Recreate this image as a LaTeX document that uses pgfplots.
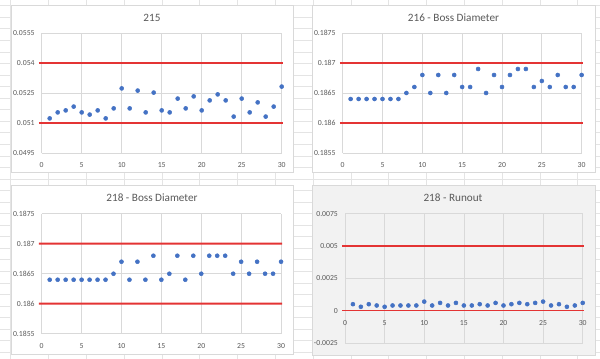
\documentclass[border=0pt]{standalone}
\usepackage{pgfplots}
\pgfplotsset{compat=1.18}
\usepackage{fontspec}
\setmainfont{Carlito}
\definecolor{txt}{HTML}{595959}
\definecolor{grd}{HTML}{D9D9D9}
\definecolor{sheet}{HTML}{E4E4E4}
\definecolor{ptblue}{HTML}{4472C4}
\definecolor{lim}{RGB}{228,52,52}
\definecolor{selbg}{HTML}{F2F2F2}
\pgfplotsset{
  excel/.style={
    scale only axis, anchor=south west,
    xmin=0, xmax=30, xtick={0,5,...,30},
    grid=major, major grid style={grd, line width=0.55pt},
    axis line style={draw=none}, major tick length=0pt,
    tick label style={font=\fontsize{5.8}{6}\selectfont, text=txt},
    xticklabel style={yshift=-3.5pt},
    yticklabel style={xshift=-1.8pt},
    scaled y ticks=false,
    /pgf/number format/.cd, fixed, precision=4, assume math mode=true,
    /pgfplots/.cd,
    clip=false,
  },
  pts/.style={only marks, mark=*, mark size=1.5pt, mark options={draw=ptblue, fill=ptblue}},
  limline/.style={no marks, color=lim, draw=lim, line width=1.1pt},
}
\begin{document}
\begin{tikzpicture}
\useasboundingbox (0pt,0pt) rectangle (450pt,-269.25pt);
\begin{scope}[x=0.75pt, y=-0.75pt]
  \fill[white] (0,0) rectangle (600,359);
  \foreach \i in {0,...,15} {\draw[sheet, line width=0.5pt] ({10.7+37.8*\i},0) -- ({10.7+37.8*\i},359);}
  \foreach \j in {0,...,31} {\draw[sheet, line width=0.5pt] (0,{5.7+11.55*\j}) -- (600,{5.7+11.55*\j});}
  \filldraw[fill=white, draw=grd, line width=0.5pt] (11,5) rectangle (293,172);
  \filldraw[fill=white, draw=grd, line width=0.5pt] (312,5) rectangle (595,172);
  \filldraw[fill=white, draw=grd, line width=0.5pt] (11,185) rectangle (293,354);
  \filldraw[fill=selbg, draw=grd, line width=0.5pt] (312,185) rectangle (595,355);
  \node[font=\fontsize{8.4}{9}\selectfont, text=txt] at (152,17.5) {215};
  \node[font=\fontsize{8.4}{9}\selectfont, text=txt] at (453.5,17.5) {216 - Boss Diameter};
  \node[font=\fontsize{8.4}{9}\selectfont, text=txt] at (152,198) {218 - Boss Diameter};
  \node[font=\fontsize{8.4}{9}\selectfont, text=txt] at (453,198) {218 - Runout};
\end{scope}

% 215
\begin{axis}[excel, at={(31.28pt,-114.75pt)}, width=180pt, height=90pt,
  ymin=0.0495, ymax=0.0555, ytick={0.0495,0.051,0.0525,0.054,0.0555}]
\addplot[limline] coordinates {(-0.35,0.051) (30.15,0.051)};
\addplot[limline] coordinates {(-0.35,0.054) (30.15,0.054)};
\addplot[pts] coordinates {
(1,0.05123) (2,0.05153) (3,0.05163) (4,0.05182) (5,0.05153) (6,0.05142)
(7,0.05163) (8,0.05123) (9,0.05173) (10,0.05273) (11,0.05173) (12,0.05262)
(13,0.05153) (14,0.05252) (15,0.05163) (16,0.05153) (17,0.05222) (18,0.05173)
(19,0.05233) (20,0.05163) (21,0.05213) (22,0.05243) (23,0.05213) (24,0.05132)
(25,0.05222) (26,0.05153) (27,0.05203) (28,0.05132) (29,0.05182) (30,0.05282)};
\end{axis}

% 216 - Boss Diameter
\begin{axis}[excel, at={(257.0pt,-114.75pt)}, width=179.25pt, height=90pt,
  ymin=0.1855, ymax=0.1875, ytick={0.1855,0.186,0.1865,0.187,0.1875}]
\addplot[limline] coordinates {(-0.35,0.186) (30.15,0.186)};
\addplot[limline] coordinates {(-0.35,0.187) (30.15,0.187)};
\addplot[pts] coordinates {
(1,0.1864) (2,0.1864) (3,0.1864) (4,0.1864) (5,0.1864) (6,0.1864)
(7,0.1864) (8,0.1865) (9,0.1866) (10,0.1868) (11,0.1865) (12,0.1868)
(13,0.1865) (14,0.1868) (15,0.1866) (16,0.1866) (17,0.1869) (18,0.1865)
(19,0.1868) (20,0.1866) (21,0.1868) (22,0.1869) (23,0.1869) (24,0.1866)
(25,0.1867) (26,0.1866) (27,0.1868) (28,0.1866) (29,0.1866) (30,0.1868)};
\end{axis}

% 218 - Runout
\begin{axis}[excel, at={(258.75pt,-257.25pt)}, width=178.3pt, height=97pt,
  ymin=-0.0025, ymax=0.0075, ytick={-0.0025,0,0.0025,0.005,0.0075},
  xticklabel style={yshift=24.2pt}]
\addplot[limline] coordinates {(-0.35,0) (30.15,0)};
\addplot[limline] coordinates {(-0.35,0.005) (30.15,0.005)};
\addplot[pts] coordinates {
(1,0.0005) (2,0.0003) (3,0.0005) (4,0.0004) (5,0.0003) (6,0.0004)
(7,0.0004) (8,0.0004) (9,0.0004) (10,0.0007) (11,0.0004) (12,0.0006)
(13,0.0004) (14,0.0006) (15,0.0004) (16,0.0004) (17,0.0005) (18,0.0004)
(19,0.0006) (20,0.0004) (21,0.0005) (22,0.0006) (23,0.0005) (24,0.0006)
(25,0.0007) (26,0.0004) (27,0.0005) (28,0.0003) (29,0.0004) (30,0.0006)};
\end{axis}

% 218 - Boss Diameter
\begin{axis}[excel, at={(31.28pt,-250.3pt)}, width=179.5pt, height=90pt,
  ymin=0.1855, ymax=0.1875, ytick={0.1855,0.186,0.1865,0.187,0.1875}]
\addplot[limline, line width=1.5pt] coordinates {(-0.35,0.1859998) (30.15,0.1860001)};
\addplot[limline, line width=1.5pt] coordinates {(-0.35,0.1869998) (30.15,0.1870001)};
\addplot[pts] coordinates {
(1,0.1864) (2,0.1864) (3,0.1864) (4,0.1864) (5,0.1864) (6,0.1864)
(7,0.1864) (8,0.1864) (9,0.1865) (10,0.1867) (11,0.1864) (12,0.1867)
(13,0.1864) (14,0.1868) (15,0.1864) (16,0.1865) (17,0.1868) (18,0.1864)
(19,0.1868) (20,0.1865) (21,0.1868) (22,0.1868) (23,0.1868) (24,0.1865)
(25,0.1867) (26,0.1865) (27,0.1867) (28,0.1865) (29,0.1865) (30,0.1867)};
\end{axis}
\end{tikzpicture}
\end{document}
